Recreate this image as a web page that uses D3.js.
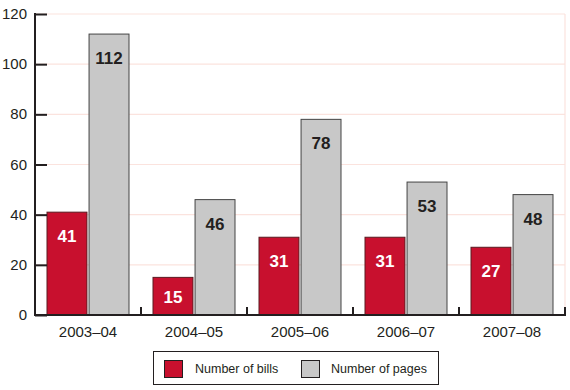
<!DOCTYPE html>
<html><head><meta charset="utf-8">
<script src="https://cdn.jsdelivr.net/npm/d3@7"></script>
<style>body{margin:0;background:#fff;} svg{display:block;}</style>
</head><body>
<svg id="chart" width="570" height="390"></svg>
<script>
const categories = ["2003–04","2004–05","2005–06","2006–07","2007–08"];
const bills = [41,15,31,31,27];
const pages = [112,46,78,53,48];
const yTicks = [0,20,40,60,80,100,120];
const seriesNames = ["Number of bills","Number of pages"];
const colors = ["#c8102e","#c8c8c8"];

(function(){
const svg = d3.select("#chart");
const pLeft = 35, pRight = 565, pTop = 14, pBottom = 315;
const x = d3.scaleBand().domain(categories).range([pLeft,pRight]).padding(0);
const x1 = d3.scaleBand().domain([0,1]).range([12, x.bandwidth()-12]).paddingInner(0.05);
const y = d3.scaleLinear().domain([0,120]).range([pBottom,pTop]);

// gridlines
svg.append("g").selectAll("line").data(yTicks.filter(d=>d>0)).join("line")
  .attr("x1",pLeft).attr("x2",pRight).attr("y1",d=>y(d)).attr("y2",d=>y(d))
  .attr("stroke","#fbe3de").attr("stroke-width",1.2);
svg.append("line").attr("x1",pRight).attr("x2",pRight).attr("y1",pTop).attr("y2",pBottom)
  .attr("stroke","#fbe3de").attr("stroke-width",1.2);

// bars
const data = categories.map((c,i)=>({c, vals:[bills[i],pages[i]]}));
const g = svg.append("g");
data.forEach(d=>{
  d.vals.forEach((v,j)=>{
    const bx = x(d.c)+x1(j);
    g.append("rect").attr("x",bx).attr("y",y(v)).attr("width",x1.bandwidth()).attr("height",y(0)-y(v))
      .attr("fill",colors[j]).attr("stroke",j===0?"#5a1a20":"#444").attr("stroke-width",1);
    g.append("text").attr("x",bx+x1.bandwidth()/2).attr("y",Math.min(y(v)+30, y(0)-12))
      .attr("text-anchor","middle").attr("font-family","Liberation Sans, Arial, sans-serif")
      .attr("font-weight","bold").attr("font-size",17)
      .attr("fill",j===0?"#ffffff":"#231f20").text(v);
  });
});

// y axis
const yAxis = svg.append("g").attr("transform",`translate(${pLeft},0)`)
  .call(d3.axisRight(y).tickValues(yTicks).tickSize(12).tickFormat(""));
yAxis.select(".domain").remove();
yAxis.selectAll("line").attr("stroke","#231f20").attr("stroke-width",2);
svg.append("line").attr("x1",pLeft).attr("x2",pLeft).attr("y1",pTop-1).attr("y2",pBottom+1)
  .attr("stroke","#231f20").attr("stroke-width",2);
svg.append("g").selectAll("text").data(yTicks).join("text")
  .attr("x",27).attr("y",d=>y(d)+5).attr("text-anchor","end")
  .attr("font-family","Liberation Sans, Arial, sans-serif").attr("font-size",15)
  .attr("fill","#231f20").text(d=>d);

// x axis
svg.append("line").attr("x1",pLeft).attr("x2",pRight+1).attr("y1",pBottom).attr("y2",pBottom)
  .attr("stroke","#231f20").attr("stroke-width",2);
svg.append("g").selectAll("line").data(categories.slice(1).map(c=>x(c)).concat([pRight]))
  .join("line").attr("x1",d=>d).attr("x2",d=>d).attr("y1",pBottom-8).attr("y2",pBottom)
  .attr("stroke","#231f20").attr("stroke-width",2);
svg.append("g").selectAll("text").data(categories).join("text")
  .attr("x",d=>x(d)+x.bandwidth()/2).attr("y",337).attr("text-anchor","middle")
  .attr("font-family","Liberation Sans, Arial, sans-serif").attr("font-size",15)
  .attr("fill","#231f20").text(d=>d);

// legend
const lg = svg.append("g");
lg.append("rect").attr("x",153.5).attr("y",351.5).attr("width",285).attr("height",33)
  .attr("fill","#fff").attr("stroke","#231f20").attr("stroke-width",1);
const lx = [164,301], tx = [195,331];
seriesNames.forEach((n,i)=>{
  lg.append("rect").attr("x",lx[i]+0.5).attr("y",360.5).attr("width",18).attr("height",17)
    .attr("fill",colors[i]).attr("stroke","#231f20").attr("stroke-width",1);
  lg.append("text").attr("x",tx[i]).attr("y",373)
    .attr("font-family","Liberation Sans, Arial, sans-serif").attr("font-size",12.5)
    .attr("fill","#231f20").text(n);
});
})();
</script>
</body></html>
